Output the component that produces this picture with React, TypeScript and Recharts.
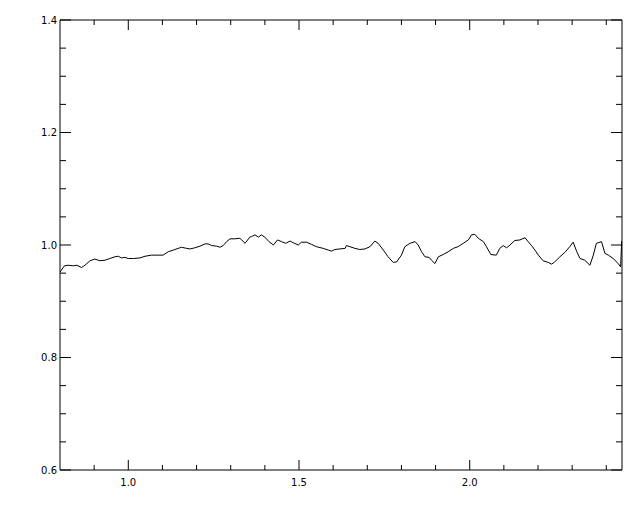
import React from 'react';
import { LineChart, Line, XAxis, YAxis } from 'recharts';

const xValues = [
  0.800, 0.813, 0.824, 0.839, 0.849, 0.863, 0.873, 0.888, 0.902, 0.917,
  0.932, 0.946, 0.961, 0.971, 0.980, 0.990, 1.000, 1.015, 1.034, 1.049,
  1.068, 1.078, 1.102, 1.117, 1.132, 1.146, 1.156, 1.171, 1.181, 1.195,
  1.210, 1.225, 1.234, 1.244, 1.259, 1.269, 1.278, 1.288, 1.298, 1.312,
  1.327, 1.342, 1.356, 1.361, 1.371, 1.381, 1.390, 1.400, 1.412, 1.425,
  1.437, 1.449, 1.461, 1.474, 1.483, 1.498, 1.507, 1.522, 1.537, 1.551,
  1.571, 1.586, 1.595, 1.605, 1.620, 1.635, 1.639, 1.649, 1.664, 1.678,
  1.693, 1.708, 1.722, 1.732, 1.747, 1.761, 1.776, 1.786, 1.800, 1.810,
  1.825, 1.840, 1.849, 1.859, 1.869, 1.881, 1.888, 1.898, 1.908, 1.922,
  1.937, 1.952, 1.966, 1.981, 1.996, 2.005, 2.015, 2.025, 2.040, 2.049,
  2.062, 2.078, 2.088, 2.098, 2.108, 2.118, 2.132, 2.147, 2.162, 2.171,
  2.181, 2.191, 2.201, 2.215, 2.230, 2.240, 2.249, 2.264, 2.279, 2.293,
  2.303, 2.313, 2.323, 2.337, 2.352, 2.362, 2.371, 2.386, 2.396, 2.406,
  2.420, 2.435, 2.442, 2.445,
];

const yValues = [
  0.952, 0.963, 0.964, 0.963, 0.964, 0.960, 0.964, 0.972, 0.975, 0.972,
  0.973, 0.976, 0.979, 0.980, 0.977, 0.978, 0.976, 0.976, 0.977, 0.980,
  0.982, 0.982, 0.982, 0.988, 0.991, 0.994, 0.996, 0.994, 0.993, 0.995,
  0.998, 1.002, 1.002, 0.999, 0.998, 0.996, 0.999, 1.006, 1.011, 1.011,
  1.012, 1.003, 1.014, 1.015, 1.018, 1.014, 1.018, 1.014, 1.006, 1.000,
  1.009, 1.006, 1.003, 1.007, 1.004, 1.000, 1.005, 1.005, 1.001, 0.997,
  0.994, 0.991, 0.989, 0.992, 0.993, 0.994, 0.999, 0.997, 0.994, 0.992,
  0.993, 0.997, 1.007, 1.003, 0.991, 0.979, 0.969, 0.970, 0.982, 0.997,
  1.003, 1.006, 1.000, 0.988, 0.979, 0.978, 0.973, 0.967, 0.979, 0.983,
  0.988, 0.994, 0.997, 1.003, 1.009, 1.018, 1.019, 1.012, 1.006, 0.997,
  0.983, 0.982, 0.994, 0.999, 0.995, 1.000, 1.008, 1.009, 1.013, 1.006,
  0.999, 0.991, 0.982, 0.972, 0.969, 0.966, 0.970, 0.979, 0.987, 0.997,
  1.005, 0.989, 0.976, 0.973, 0.964, 0.982, 1.003, 1.006, 0.985, 0.982,
  0.976, 0.967, 0.961, 1.007,
];

const xDomain = [0.8, 2.446];
const yDomain = [0.6, 1.4];

const xTicks = [0.9, 1.0, 1.1, 1.2, 1.3, 1.4, 1.5, 1.6, 1.7, 1.8, 1.9, 2.0, 2.1, 2.2, 2.3, 2.4];
const xMajorTicks = [1.0, 1.5, 2.0];

const yTicks = [
  0.6, 0.65, 0.7, 0.75, 0.8, 0.85, 0.9, 0.95, 1.0, 1.05, 1.1, 1.15, 1.2, 1.25, 1.3, 1.35, 1.4,
];
const yMajorTicks = [0.6, 0.8, 1.0, 1.2, 1.4];

const data = xValues.map((x, i) => ({ x, y: yValues[i] }));

const isMajor = (list: number[], v: number) => list.some((m) => Math.abs(m - v) < 1e-6);

const FONT = '"DejaVu Sans", sans-serif';

const BottomTick = (props: any) => {
  const { x, y, payload } = props;
  const major = isMajor(xMajorTicks, payload.value);
  return (
    <g>
      <line x1={x} y1={y} x2={x} y2={y - (major ? 10 : 5)} stroke="#000" strokeWidth={1} />
      {major && (
        <text x={x} y={y + 16} textAnchor="middle" fontSize={10} fontFamily={FONT} fill="#000">
          {payload.value.toFixed(1)}
        </text>
      )}
    </g>
  );
};

const TopTick = (props: any) => {
  const { x, y, payload } = props;
  const major = isMajor(xMajorTicks, payload.value);
  return <line x1={x} y1={y} x2={x} y2={y + (major ? 10 : 5)} stroke="#000" strokeWidth={1} />;
};

const LeftTick = (props: any) => {
  const { x, y, payload } = props;
  const major = isMajor(yMajorTicks, payload.value);
  return (
    <g>
      <line x1={x} y1={y} x2={x + (major ? 11 : 6)} y2={y} stroke="#000" strokeWidth={1} />
      {major && (
        <text x={x - 3} y={y + 3.5} textAnchor="end" fontSize={10} fontFamily={FONT} fill="#000">
          {payload.value.toFixed(1)}
        </text>
      )}
    </g>
  );
};

const RightTick = (props: any) => {
  const { x, y, payload } = props;
  const major = isMajor(yMajorTicks, payload.value);
  return <line x1={x} y1={y} x2={x - (major ? 11 : 6)} y2={y} stroke="#000" strokeWidth={1} />;
};

export default function App() {
  return (
    <div style={{ position: 'absolute', left: 0, top: 0, background: '#fff' }}>
      <LineChart
        width={640}
        height={512}
        data={data}
        margin={{ top: 19, right: 17, bottom: 0, left: 0 }}
      >
        <XAxis
          xAxisId="bottom"
          orientation="bottom"
          dataKey="x"
          type="number"
          domain={xDomain}
          allowDataOverflow
          ticks={xTicks}
          interval={0}
          tickSize={0}
          tickMargin={0}
          height={42}
          axisLine={{ stroke: '#000', strokeWidth: 1 }}
          tickLine={false}
          tick={BottomTick}
        />
        <XAxis
          xAxisId="top"
          orientation="top"
          dataKey="x"
          type="number"
          domain={xDomain}
          allowDataOverflow
          ticks={xTicks}
          interval={0}
          tickSize={0}
          tickMargin={0}
          height={1}
          axisLine={{ stroke: '#000', strokeWidth: 1 }}
          tickLine={false}
          tick={TopTick}
        />
        <YAxis
          yAxisId="left"
          orientation="left"
          type="number"
          domain={yDomain}
          allowDataOverflow
          ticks={yTicks}
          interval={0}
          tickSize={0}
          tickMargin={0}
          width={60}
          axisLine={{ stroke: '#000', strokeWidth: 1 }}
          tickLine={false}
          tick={LeftTick}
        />
        <YAxis
          yAxisId="right"
          orientation="right"
          type="number"
          domain={yDomain}
          allowDataOverflow
          ticks={yTicks}
          interval={0}
          tickSize={0}
          tickMargin={0}
          width={1}
          axisLine={{ stroke: '#000', strokeWidth: 1 }}
          tickLine={false}
          tick={RightTick}
        />
        <Line
          xAxisId="top"
          yAxisId="right"
          dataKey="y"
          type="linear"
          stroke="none"
          strokeWidth={0}
          dot={false}
          activeDot={false}
          isAnimationActive={false}
        />
        <Line
          xAxisId="bottom"
          yAxisId="left"
          dataKey="y"
          type="linear"
          stroke="#000"
          strokeWidth={1}
          dot={false}
          isAnimationActive={false}
        />
      </LineChart>
    </div>
  );
}
